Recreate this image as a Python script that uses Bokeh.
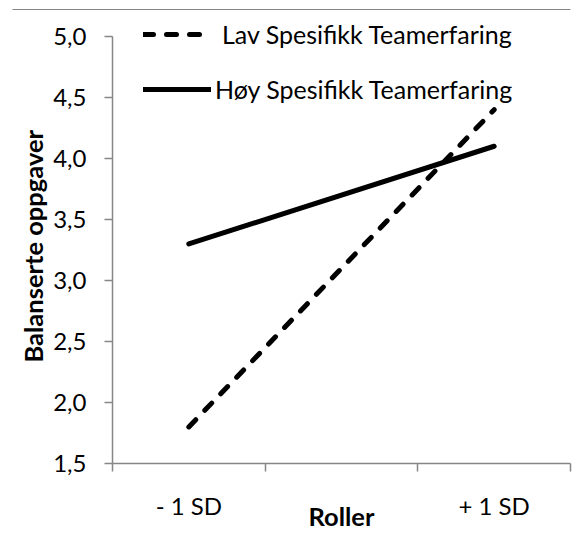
from bokeh.plotting import figure
from bokeh.models import Range1d, FixedTicker, Legend, LegendItem, Title, LinearAxis
from bokeh.embed import file_html
from bokeh.resources import INLINE

# ---- data ----
categories = ["- 1 SD", "", "+ 1 SD"]
x_points = [0, 2]                      # category index of "- 1 SD" and "+ 1 SD"
series_names = ["Lav Spesifikk Teamerfaring", "Høy Spesifikk Teamerfaring"]
lav_values = [1.8, 4.4]
hoy_values = [3.3, 4.1]
y_ticks = [1.5, 2.0, 2.5, 3.0, 3.5, 4.0, 4.5, 5.0]
y_tick_labels = ["1,5", "2,0", "2,5", "3,0", "3,5", "4,0", "4,5", "5,0"]
x_title = "Roller"
y_title = "Balanserte oppgaver"

FONT = "Lato"
FS_TICK = "24px"
FS_LEG = "25px"
FS_TITLE = "25.5px"
AX = "#868686"

W, H = 575, 533
TOP, LEFT, BOTTOM, RIGHT = 9, 112, 69, 5
n = len(categories)
frame_h = H - TOP - BOTTOM
px_per_unit = (464 - 36) / (y_ticks[-1] - y_ticks[0])
y_top = y_ticks[0] + frame_h / px_per_unit

p = figure(width=W, height=H,
           x_range=Range1d(-0.5, n - 0.5), y_range=Range1d(y_ticks[0], y_top),
           min_border_left=LEFT, min_border_top=TOP, min_border_bottom=BOTTOM,
           min_border_right=RIGHT, output_backend="svg", toolbar_location=None)
p.xgrid.visible = False
p.ygrid.visible = False
p.outline_line_color = None
p.background_fill_color = "white"
p.border_fill_color = "white"

r_lav = p.line(x_points, lav_values, line_color="black", line_width=5,
               line_dash="10 13", line_cap="round")
r_hoy = p.line(x_points, hoy_values, line_color="black", line_width=5,
               line_cap="round")

# x axis: category boundaries as minor ticks, labels at category centres
xa = p.xaxis[0]
xa.ticker = FixedTicker(ticks=[0, 2], minor_ticks=[i - 0.5 for i in range(n + 1)])
xa.major_label_overrides = {0: categories[0], 2: categories[2]}
xa.major_tick_line_color = None
xa.major_tick_out = 0
xa.major_tick_in = 0
xa.minor_tick_out = 8
xa.minor_tick_in = 0
xa.minor_tick_line_color = AX
xa.minor_tick_line_width = 1.5
xa.axis_line_color = AX
xa.axis_line_width = 1.5
xa.major_label_standoff = 19
xa.major_label_text_font = FONT
xa.major_label_text_font_size = FS_TICK
xa.major_label_text_color = "black"
xa.axis_label = x_title
xa.axis_label_text_font = FONT
xa.axis_label_text_font_size = FS_TITLE
xa.axis_label_text_font_style = "bold"
xa.axis_label_text_color = "black"
xa.axis_label_standoff = -22

ya = p.yaxis[0]
ya.ticker = FixedTicker(ticks=y_ticks, minor_ticks=[])
ya.major_label_overrides = {t: l for t, l in zip(y_ticks, y_tick_labels)}
ya.bounds = (y_ticks[0], y_ticks[-1])
ya.major_tick_out = 8
ya.major_tick_in = 0
ya.major_tick_line_color = AX
ya.major_tick_line_width = 1.5
ya.minor_tick_line_color = None
ya.axis_line_color = AX
ya.axis_line_width = 1.5
ya.major_label_standoff = 18
ya.major_label_text_font = FONT
ya.major_label_text_font_size = FS_TICK
ya.major_label_text_color = "black"

# y title as a side-panel title so it can be centred on the 1.5..5.0 span
p.add_layout(Title(text=y_title, align="left", offset=101, standoff=5,
                   text_font=FONT, text_font_size=FS_TITLE, text_font_style="bold",
                   text_color="black"), "left")

# chart-area border (top edge): one long inward tick of a bare right axis
border_top = LinearAxis(ticker=FixedTicker(ticks=[y_top], minor_ticks=[]),
                        axis_line_color=None, major_tick_out=0,
                        major_tick_in=W - RIGHT - 12, major_tick_line_color=AX,
                        major_tick_line_width=1, minor_tick_line_color=None,
                        major_label_overrides={y_top: ""},
                        major_label_text_font_size="1px", major_label_standoff=0)
p.add_layout(border_top, "right")

common = dict(padding=0, margin=0, spacing=0, border_line_color=None,
              background_fill_alpha=0, glyph_height=30, label_height=30,
              label_text_font=FONT, label_text_font_size=FS_LEG,
              label_text_color="black")
leg1 = Legend(items=[LegendItem(label=series_names[0], renderers=[r_lav])],
              location=(31, 414), glyph_width=60, label_standoff=19, **common)
leg2 = Legend(items=[LegendItem(label=series_names[1], renderers=[r_hoy])],
              location=(31, 359), glyph_width=68, label_standoff=4, **common)
p.add_layout(leg1)
p.add_layout(leg2)

open("out.html", "w").write(file_html(p, INLINE))
